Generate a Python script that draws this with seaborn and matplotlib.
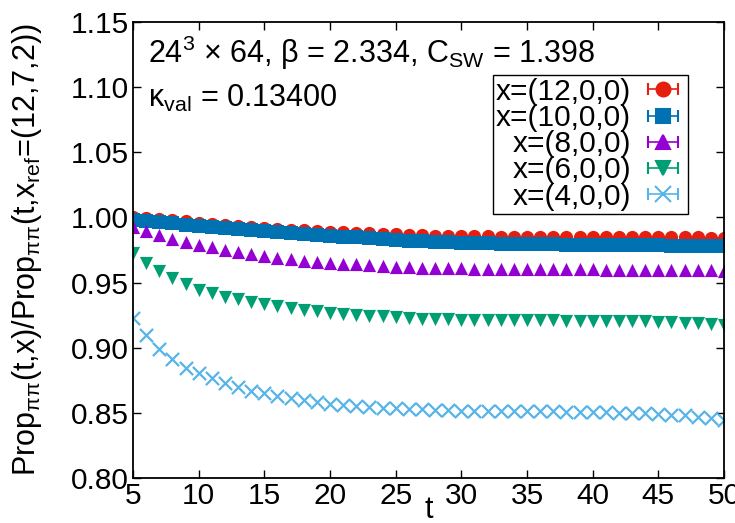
import numpy as np
import pandas as pd
import matplotlib
matplotlib.use('Agg')
import matplotlib.pyplot as plt
import seaborn as sns

# time slices
t = list(range(5, 51))

# ratios, one list per source position
r_12 = [1.000, 0.9995, 0.999, 0.998, 0.9972, 0.996, 0.9952, 0.9945, 0.9935, 0.993,
        0.992, 0.9912, 0.9905, 0.990, 0.9895, 0.989, 0.9885, 0.988, 0.9877, 0.9872,
        0.987, 0.9866, 0.9863, 0.986, 0.9858, 0.9856, 0.9855, 0.9855, 0.9853, 0.9853,
        0.9852, 0.9852, 0.9851, 0.9851, 0.9852, 0.9852, 0.9851, 0.9851, 0.9852, 0.985,
        0.985, 0.9849, 0.9849, 0.9848, 0.9845, 0.9843]
r_10 = [0.998, 0.9972, 0.9963, 0.9955, 0.9945, 0.9935, 0.9925, 0.9917, 0.9908, 0.990,
        0.9892, 0.9885, 0.9878, 0.9871, 0.9865, 0.9858, 0.9852, 0.9846, 0.984, 0.9834,
        0.9828, 0.9822, 0.9817, 0.9812, 0.9808, 0.9804, 0.9802, 0.980, 0.9798, 0.9797,
        0.9796, 0.9794, 0.9793, 0.9792, 0.9791, 0.979, 0.9789, 0.9788, 0.9787, 0.9786,
        0.9785, 0.9784, 0.9783, 0.9781, 0.978, 0.9778]
r_8 = [0.9925, 0.9892, 0.9866, 0.9835, 0.981, 0.979, 0.977, 0.975, 0.9733, 0.9718,
       0.9703, 0.969, 0.9678, 0.9668, 0.966, 0.9652, 0.9645, 0.964, 0.9633, 0.9628,
       0.9623, 0.9618, 0.9615, 0.9612, 0.961, 0.9608, 0.9607, 0.9606, 0.9605, 0.9606,
       0.9605, 0.9604, 0.9604, 0.9603, 0.9602, 0.9601, 0.960, 0.9599, 0.9598, 0.9598,
       0.9597, 0.9597, 0.9596, 0.9595, 0.9594, 0.9592]
r_6 = [0.9726, 0.965, 0.959, 0.9535, 0.9487, 0.9446, 0.9418, 0.9393, 0.9372, 0.9354,
       0.9333, 0.9318, 0.9303, 0.929, 0.928, 0.9268, 0.926, 0.9252, 0.9246, 0.924,
       0.9234, 0.9228, 0.9224, 0.922, 0.9217, 0.9215, 0.9213, 0.9212, 0.9211, 0.921,
       0.921, 0.9209, 0.9209, 0.9208, 0.9208, 0.9207, 0.9206, 0.9205, 0.9204, 0.9202,
       0.920, 0.9196, 0.9192, 0.9188, 0.9182, 0.9176]
r_4 = [0.9228, 0.910, 0.899, 0.8915, 0.8848, 0.8803, 0.8765, 0.8733, 0.870, 0.8668,
       0.865, 0.863, 0.8615, 0.8595, 0.8583, 0.8565, 0.8557, 0.855, 0.8543, 0.8538,
       0.8535, 0.853, 0.8527, 0.8523, 0.852, 0.8518, 0.8516, 0.8515, 0.8514, 0.8513,
       0.8512, 0.8512, 0.8511, 0.851, 0.8509, 0.8508, 0.8505, 0.8502, 0.850, 0.8497,
       0.8492, 0.8487, 0.848, 0.8472, 0.8462, 0.8448]

labels = ['x=(12,0,0)', 'x=(10,0,0)', 'x=(8,0,0)', 'x=(6,0,0)', 'x=(4,0,0)']
series = [r_12, r_10, r_8, r_6, r_4]
colors = ['#e51e10', '#0072b2', '#9400d3', '#009e73', '#56b4e9']
markers = ['o', 's', '^', 'v', 'x']
sizes = [90, 95, 90, 90, 90]

sns.set_theme(style='ticks')
plt.rcParams['font.family'] = ['Liberation Sans', 'DejaVu Sans']
plt.rcParams['mathtext.fontset'] = 'custom'
plt.rcParams['mathtext.rm'] = 'Liberation Sans'
plt.rcParams['mathtext.it'] = 'Liberation Sans'
plt.rcParams['mathtext.bf'] = 'Liberation Sans:bold'
plt.rcParams['text.color'] = 'black'
plt.rcParams['axes.labelcolor'] = 'black'
fs = 22

fig = plt.figure(figsize=(7.35, 5.23), dpi=100)
ax = fig.add_axes([0.181, 0.086, 0.804, 0.872])

for lab, vals, c, m, s in zip(labels, series, colors, markers, sizes):
    df = pd.DataFrame({'t': t, 'ratio': vals})
    if m == 'x':
        sns.scatterplot(data=df, x='t', y='ratio', ax=ax, marker=m, s=s,
                        color=c, linewidth=1.6, legend=False)
    else:
        sns.scatterplot(data=df, x='t', y='ratio', ax=ax, marker=m, s=s,
                        color=c, linewidth=0, legend=False)

# legend proxies with error-bar caps, gnuplot style
handles = []
for lab, c, m in zip(labels, colors, markers):
    h = ax.errorbar([np.nan], [np.nan], xerr=[0.0], fmt=m, color=c,
                    ms=10 if m != 'x' else 11, mew=1.5, elinewidth=1.2,
                    capsize=4, capthick=1.2, label=lab)
    handles.append(h)

ax.set_xlim(5, 50)
ax.set_ylim(0.80, 1.15)
ax.set_xticks(range(5, 51, 5))
ax.set_yticks(np.arange(0.80, 1.151, 0.05))
ax.yaxis.set_major_formatter(matplotlib.ticker.FormatStrFormatter('%.2f'))
ax.tick_params(direction='in', length=6, width=1, top=True, right=True,
               labelsize=21.5, pad=3, colors='black')
for sp in ax.spines.values():
    sp.set_linewidth(1.3)
    sp.set_color('black')

ax.set_xlabel('t', fontsize=fs, labelpad=-11)
ax.set_ylabel(r'Prop$_{\pi\pi}$(t,x)/Prop$_{\pi\pi}$(t,x$_{\rm ref}$=(12,7,2))',
              fontsize=fs)
ax.yaxis.set_label_coords(-0.15, 0.5)

ax.text(0.025, 0.910, r'24$^3$ × 64, β = 2.334, C$_{\rm SW}$ = 1.398',
        transform=ax.transAxes, fontsize=fs, va='baseline', ha='left')
ax.text(0.025, 0.814, r'κ$_{\rm val}$ = 0.13400',
        transform=ax.transAxes, fontsize=fs, va='baseline', ha='left')

leg = ax.legend(handles=handles, labels=labels, loc='upper right',
                bbox_to_anchor=(0.939, 0.884), markerfirst=False,
                fontsize=21.5, frameon=True, fancybox=False, framealpha=1,
                edgecolor='black', handlelength=1.45, handletextpad=0.35,
                labelspacing=-0.06, borderpad=0.1, borderaxespad=0)
leg.get_frame().set_linewidth(1.0)

fig.savefig('out.png', dpi=100)
